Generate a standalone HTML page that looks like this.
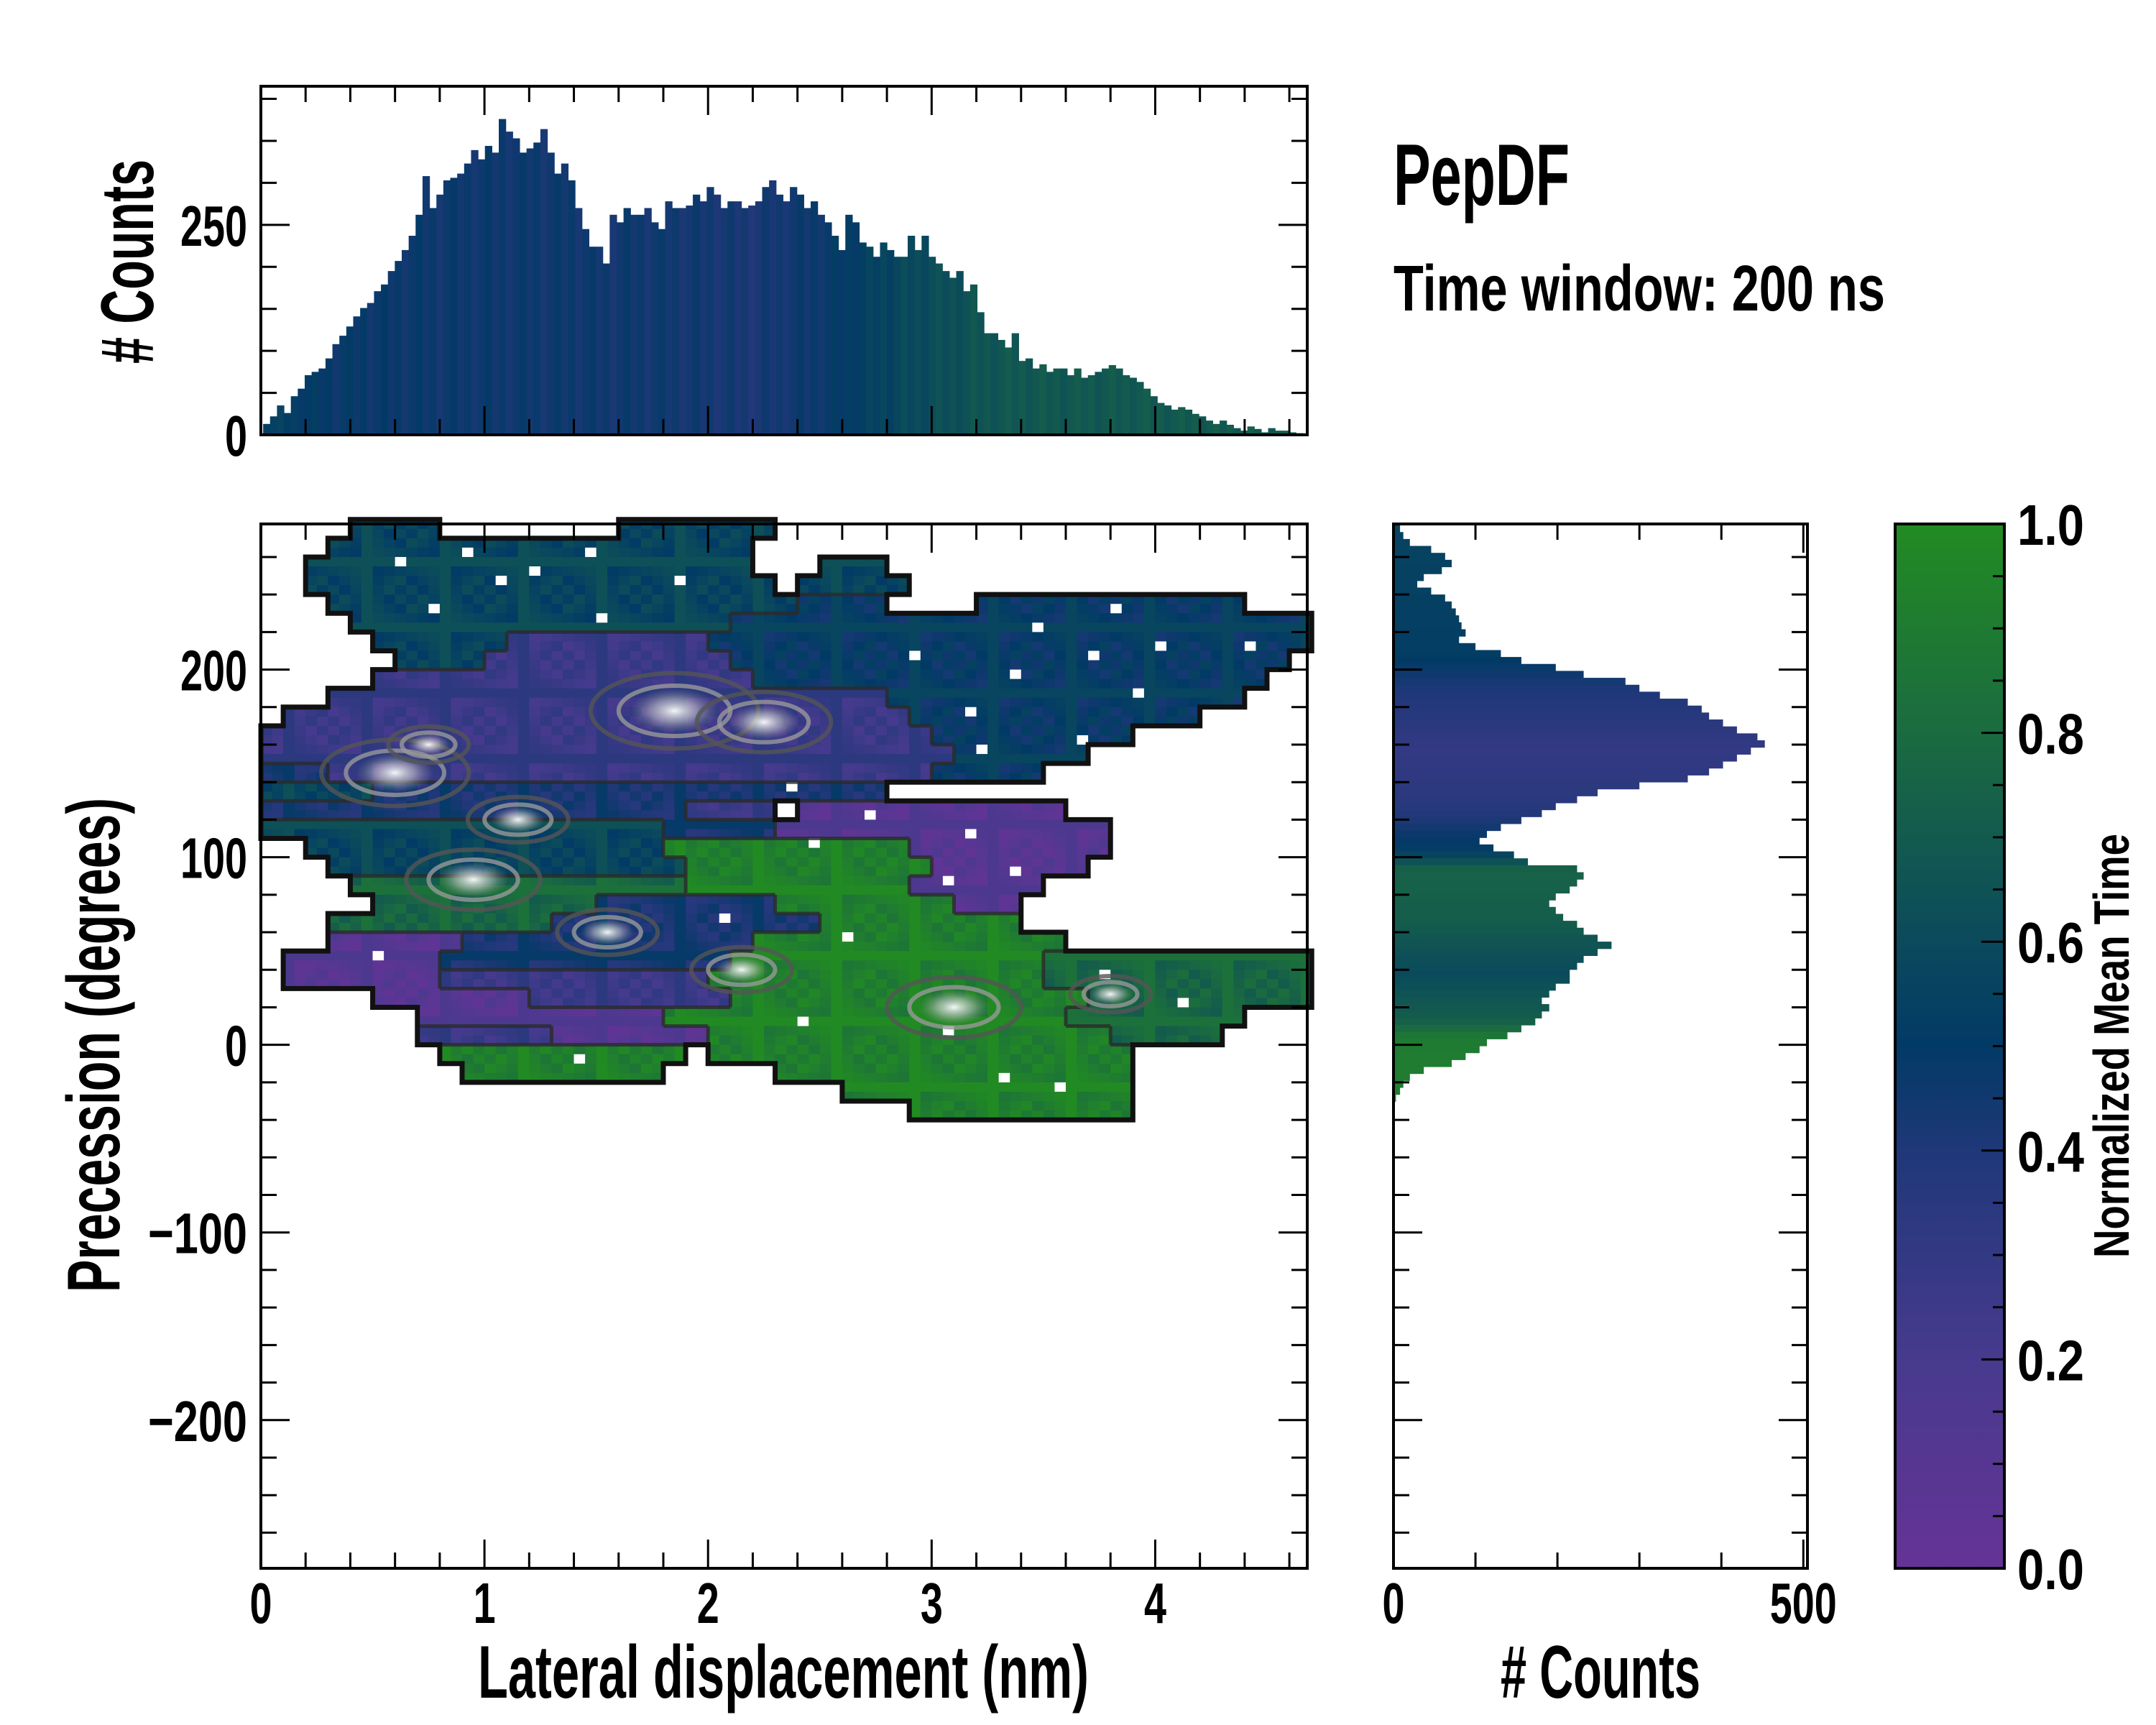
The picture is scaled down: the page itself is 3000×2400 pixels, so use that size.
<!DOCTYPE html>
<html><head><meta charset="utf-8">
<style>
html,body{margin:0;padding:0;background:#fff;}
svg{display:block;}
text{font-family:"Liberation Sans",sans-serif;font-weight:bold;fill:#000;}
</style></head>
<body>
<svg id="fig" width="3000" height="2400" viewBox="0 0 3000 2400" xmlns="http://www.w3.org/2000/svg">
<g id="heat"></g>
<g id="topHist"></g>
<g id="rightHist"></g>
<defs>
<linearGradient id="cbGrad" x1="0" y1="1" x2="0" y2="0">
<stop offset="0" stop-color="#653396"/><stop offset="0.2" stop-color="#473a8e"/><stop offset="0.4" stop-color="#1f3878"/><stop offset="0.5" stop-color="#023a66"/><stop offset="0.6" stop-color="#0b4a5c"/><stop offset="0.8" stop-color="#1b6b40"/><stop offset="1" stop-color="#228b22"/>
</linearGradient>
<radialGradient id="spot"><stop offset="0" stop-color="#ffffff" stop-opacity="0.95"/><stop offset="0.5" stop-color="#cccccc" stop-opacity="0.55"/><stop offset="1" stop-color="#888888" stop-opacity="0"/></radialGradient>
</defs>
<rect x="2637" y="729" width="152" height="1453" fill="url(#cbGrad)" stroke="#000" stroke-width="4"/>
<g id="axes"></g>
<g id="labels">
<text x="665" y="2362" font-size="104" textLength="850" lengthAdjust="spacingAndGlyphs">Lateral displacement (nm)</text>
<text x="2088" y="2362" font-size="104" textLength="278" lengthAdjust="spacingAndGlyphs"># Counts</text>
<text transform="translate(166,1798) rotate(-90)" font-size="104" textLength="688" lengthAdjust="spacingAndGlyphs">Precession (degrees)</text>
<text transform="translate(213,506) rotate(-90)" font-size="104" textLength="284" lengthAdjust="spacingAndGlyphs"># Counts</text>
<text x="1939" y="285" font-size="122" textLength="245" lengthAdjust="spacingAndGlyphs">PepDF</text>
<text x="1939" y="432" font-size="90" textLength="684" lengthAdjust="spacingAndGlyphs">Time window: 200 ns</text>
<text transform="translate(2962,1750) rotate(-90)" font-size="70" textLength="590" lengthAdjust="spacingAndGlyphs">Normalized Mean Time</text>
</g>
</svg>
<script>
// ---- data ----
const topHistCounts=[13,22,35,26,46,55,71,75,79,91,108,118,129,141,151,157,171,179,195,207,220,237,262,308,270,286,303,306,311,323,339,328,344,336,376,361,353,336,341,348,364,336,311,323,303,270,245,224,224,204,262,253,270,262,262,270,253,245,278,270,270,273,286,278,295,286,270,278,278,270,273,278,295,303,286,278,295,286,270,278,262,253,237,220,262,253,229,224,212,229,220,212,212,237,220,237,212,204,195,187,195,171,179,146,121,121,113,104,121,88,91,79,84,75,79,79,71,79,68,71,75,79,83,79,71,68,63,55,46,38,35,30,33,30,25,22,17,13,17,12,8,5,10,7,3,8,5,5,3,2];
const topHistStart=0.01, topHistBin=0.031;
const topColorX=[0,0.3,0.8,1.8,2.2,2.5,2.9,3.3,4.7];
const topColorV=[0.55,0.48,0.46,0.45,0.42,0.47,0.6,0.68,0.7];
const rightHistCounts=[8,12,20,46,63,71,59,37,29,46,63,71,76,80,83,88,80,100,131,156,198,232,283,300,325,359,376,385,402,419,444,453,436,419,402,385,359,300,249,224,198,181,156,131,114,105,122,147,164,224,232,224,215,198,190,198,207,224,232,249,266,249,232,224,215,215,198,190,181,190,181,173,156,139,114,105,88,71,37,20,12,8,3];
const rightHistStart=277, rightHistBin=3.7;
const rightColorDeg=[280,210,190,160,130,112,105,95,70,40,15,5,-40];
const rightColorV=[0.56,0.52,0.4,0.3,0.35,0.48,0.52,0.75,0.72,0.6,0.72,0.9,0.92];
const levelCodes=["p","b","m","n","t","h","g"];
const levelValues=[0.1,0.27,0.42,0.5,0.57,0.77,0.93];
const heatRows=[
"4-7:t,16-22:t","3-21:t","2-21:t,25-27:t","2-22:t,24-28:t","3-23:t,24-27:n,32-43:n",
"4-20:t,21-46:n","5-10:t,11-19:b,20-46:n","6-9:t,10-20:b,21-45:n","5-21:b,22-44:n","3-27:b,28-43:n",
"1-28:b,29-41:n","0-29:b,30-38:n","0-30:b,31-36:n","0-2:m,3-29:b,30-34:n","0-4:t,5-27:m",
"0-18:m,19-22:b,24-35:p","0-17:t,18-22:m,23-37:p","2-17:t,18-28:g,29-37:p","3-18:t,19-29:g,30-36:p","4-18:h,19-28:g,29-34:p",
"5-14:h,15-22:m,23-30:g,31-33:p","3-12:h,13-24:m,25-33:g","3-8:p,9-21:m,22-35:g","1-7:p,8-20:m,21-34:g,35-46:h","1-7:p,8-19:b,20-34:g,35-46:h",
"5-11:p,12-20:b,21-36:g,37-46:h","7-17:p,18-35:g,36-43:h","7-12:b,13-19:p,20-37:g,38-42:h","8-18:g,20-38:g","9-17:g,23-38:g",
"26-38:g","29-38:g"];
const heatHoles=["1,9","1,14","2,6","2,12","3,18","3,10","4,7","5,15","5,34","6,40","7,29","7,37","8,33","9,39","10,31","11,36","12,32","4,38","6,44","15,27","16,31","17,24","18,33","19,30","22,26","24,37","25,41","26,24","27,30","28,14","29,33","30,35","14,23","21,20","23,5"];
const heatTopDeg=280, heatCellDeg=10, heatCellNm=0.1;
const spotX=[0.6,1.15,1.85,2.25,0.95,2.15,3.1,3.8,1.55,0.75];
const spotY=[145,120,178,172,88,40,20,27,60,160];
const spotR=[0.22,0.15,0.25,0.2,0.2,0.15,0.2,0.12,0.15,0.12];
const xTicks=[0,1,2,3,4];
const yTicks=[-200,-100,0,100,200];
const cbTicks=[0,0.2,0.4,0.6,0.8,1.0];
const cbTickLabels=["0.0","0.2","0.4","0.6","0.8","1.0"];
const topYTicks=[0,250];
const rightXTicks=[0,500];

// ---- geometry ----
const M={L:363,R:1819,T:729,B:2182};
const xMin=0,xMax=4.68,yMin=-279,yMax=277.6;
const TH={T:120,B:605,max:415};
const RH={L:1939,R:2515,max:505};
const CB={L:2637,R:2789};
const sx=v=>M.L+(v-xMin)/(xMax-xMin)*(M.R-M.L);
const sy=v=>M.B-(v-yMin)/(yMax-yMin)*(M.B-M.T);
const sTop=v=>TH.B-v/TH.max*(TH.B-TH.T);
const sRight=v=>RH.L+v/RH.max*(RH.R-RH.L);
const sCb=v=>M.B-v*(M.B-M.T);
const NS="http://www.w3.org/2000/svg";
function mk(tag,attrs,parent){const e=document.createElementNS(NS,tag);for(const k in attrs)e.setAttribute(k,attrs[k]);parent.appendChild(e);return e;}
const stops=[[0,[0x65,0x33,0x96]],[0.2,[0x47,0x3a,0x8e]],[0.4,[0x1f,0x38,0x78]],[0.5,[0x02,0x3a,0x66]],[0.6,[0x0b,0x4a,0x5c]],[0.8,[0x1b,0x6b,0x40]],[1,[0x22,0x8b,0x22]]];
function cmap(v){v=Math.max(0,Math.min(1,v));for(let i=1;i<stops.length;i++){if(v<=stops[i][0]){const a=stops[i-1],b=stops[i],t=(v-a[0])/(b[0]-a[0]);const c=a[1].map((x,j)=>Math.round(x+(b[1][j]-x)*t));return`rgb(${c[0]},${c[1]},${c[2]})`;}}return"rgb(34,139,34)";}
function interp(xs,vs,x){if(xs[0]>xs[xs.length-1]){xs=xs.slice().reverse();vs=vs.slice().reverse();}if(x<=xs[0])return vs[0];for(let i=1;i<xs.length;i++){if(x<=xs[i]){const t=(x-xs[i-1])/(xs[i]-xs[i-1]);return vs[i-1]+(vs[i]-vs[i-1])*t;}}return vs[vs.length-1];}

// ---- heatmap ----
const heat=document.getElementById('heat');
const grid=[];
heatRows.forEach((row,r)=>{grid[r]=[];row.split(",").forEach(seg=>{const [rng,code]=seg.split(":");const [a,b]=rng.split("-").map(Number);for(let c=a;c<=b;c++)grid[r][c]=levelValues[levelCodes.indexOf(code)];});});
const holeSet=new Set(heatHoles);
const filled=(r,c)=>grid[r]&&grid[r][c]!==undefined;
grid.forEach((row,r)=>{row.forEach((v,c)=>{if(v===undefined)return;
 const x0=sx(c*heatCellNm),x1=sx((c+1)*heatCellNm),y0=sy(heatTopDeg-r*heatCellDeg),y1=sy(heatTopDeg-(r+1)*heatCellDeg);
 const hw=(x1-x0)/2,hh=(y1-y0)/2;
 for(let q=0;q<4;q++){
  const gx=c*2+(q&1),gy=r*2+(q>>1);
  const jitter=(((gx*3+gy*5+gx*gy)%7)-3)*0.022;
  const hole=holeSet.has(r+","+c)&&q===((r+c)%4);
  const e=mk('rect',{x:x0+(q&1)*hw,y:y0+(q>>1)*hh,width:hw+0.5,height:hh+0.5,fill:hole?'#ffffff':cmap(v+jitter)},heat);
  
  
 }
});});
let di="";
grid.forEach((row,r)=>{row.forEach((v,c)=>{if(v===undefined)return;
 const x0=sx(c*heatCellNm),x1=sx((c+1)*heatCellNm),y1=sy(heatTopDeg-(r+1)*heatCellDeg),y0=sy(heatTopDeg-r*heatCellDeg);
 if(filled(r+1,c)&&grid[r+1][c]!==v)di+=`M${x0},${y1}H${x1}`;
 if(filled(r,c+1)&&grid[r][c+1]!==v)di+=`M${x1},${y0}V${y1}`;
});});
const inner=mk('path',{d:di,fill:'none',stroke:'#2a2a2a','stroke-width':5,'stroke-opacity':0.8},heat);


spotX.forEach((x,i)=>{const cx=sx(x),cy=sy(spotY[i]),rx=spotR[i]*311,ry=rx*0.45;
 [1.5,1.0].forEach((k,j)=>{const e=mk('ellipse',{cx,cy,rx:rx*k,ry:ry*k,fill:'none',stroke:['#555','#999'][j],'stroke-width':6,'stroke-opacity':0.8},heat);
 
 });
 const s=mk('ellipse',{cx,cy,rx:rx*0.8,ry:ry*0.9,fill:'url(#spot)'},heat);
 
 
});
let d="";
grid.forEach((row,r)=>{row.forEach((v,c)=>{if(v===undefined)return;
 const x0=sx(c*heatCellNm),x1=sx((c+1)*heatCellNm),y0=sy(heatTopDeg-r*heatCellDeg),y1=sy(heatTopDeg-(r+1)*heatCellDeg);
 if(!filled(r-1,c))d+=`M${x0},${y0}H${x1}`;
 if(!filled(r+1,c))d+=`M${x0},${y1}H${x1}`;
 if(!filled(r,c-1))d+=`M${x0},${y0}V${y1}`;
 if(!filled(r,c+1))d+=`M${x1},${y0}V${y1}`;
});});
const outline=mk('path',{d,fill:'none',stroke:'#111','stroke-width':7,'stroke-linecap':'square'},heat);



// ---- top histogram ----
const th=document.getElementById('topHist');
topHistCounts.forEach((v,i)=>{const a=topHistStart+i*topHistBin;const x0=sx(a),x1=sx(a+topHistBin);
 const e=mk('rect',{x:x0,y:sTop(v),width:x1-x0+0.6,height:TH.B-sTop(v),fill:cmap(interp(topColorX,topColorV,a)+((i*7)%5-2)*0.015)},th);
 
 });

// ---- right histogram ----
const rh=document.getElementById('rightHist');
rightHistCounts.forEach((v,i)=>{const a=rightHistStart-i*rightHistBin;const y0=sy(a),y1=sy(a-rightHistBin);
 const e=mk('rect',{x:RH.L,y:y0,width:sRight(v)-RH.L,height:y1-y0+0.6,fill:cmap(interp(rightColorDeg,rightColorV,a))},rh);
 
 });

// ---- axes ----
const ax=document.getElementById('axes');
function frame(L,T,R,B,name){const e=mk('rect',{x:L,y:T,width:R-L,height:B-T,fill:'none',stroke:'#000','stroke-width':4},ax);}
function tick(x1,y1,x2,y2){const e=mk('line',{x1,y1,x2,y2,stroke:'#000','stroke-width':3},ax);}
function label(txt,x,y,anchor,name,fs){const e=mk('text',{x,y,'text-anchor':anchor,'font-size':fs||80,textLength:txt.length*31+(txt[0]==='\u2212'?14:0),lengthAdjust:'spacingAndGlyphs'},ax);e.textContent=txt;}
const MJ=40,MN=22;
frame(M.L,M.T,M.R,M.B,'main-plot-frame');
frame(M.L,TH.T,M.R,TH.B,'top-hist-frame');
frame(RH.L,M.T,RH.R,M.B,'right-hist-frame');
for(let v=0;v<=4.6001;v+=0.2){const x=sx(v);const major=Math.abs(v-Math.round(v))<1e-6;const L=major?MJ:MN;
 tick(x,M.B,x,M.B-L);tick(x,M.T,x,M.T+L);tick(x,TH.B,x,TH.B-L);tick(x,TH.T,x,TH.T+L);}
xTicks.forEach(v=>label(String(v),sx(v),2258,'middle','x-tick-label'));
for(let v=-260;v<=260;v+=20){const y=sy(v);const major=v%100===0;const L=major?MJ:MN;
 tick(M.L,y,M.L+L,y);tick(M.R,y,M.R-L,y);tick(RH.L,y,RH.L+L,y);tick(RH.R,y,RH.R-L,y);}
yTicks.forEach(v=>label(v<0?'\u2212'+Math.abs(v):String(v),344,sy(v)+29,'end','y-tick-label'));
for(let v=50;v<=400;v+=50){const y=sTop(v);const L=v%250===0?MJ:MN;tick(M.L,y,M.L+L,y);tick(M.R,y,M.R-L,y);}
topYTicks.forEach(v=>label(String(v),344,sTop(v)+29,'end','top-y-tick-label'));
for(let v=100;v<=500;v+=100){const x=sRight(v);const L=v===500?MJ:MN;tick(x,M.B,x,M.B-L);tick(x,M.T,x,M.T+L);}
rightXTicks.forEach(v=>label(String(v),sRight(v),2258,'middle','right-x-tick-label'));
for(let v=0.05;v<1;v+=0.05){const y=sCb(v);const major=Math.abs(v*5-Math.round(v*5))<1e-6;tick(CB.R-(major?32:16),y,CB.R,y);}
cbTicks.forEach((v,i)=>label(cbTickLabels[i],2807,sCb(v)+29,'start','colorbar-tick-label'));
</script>
</body></html>
